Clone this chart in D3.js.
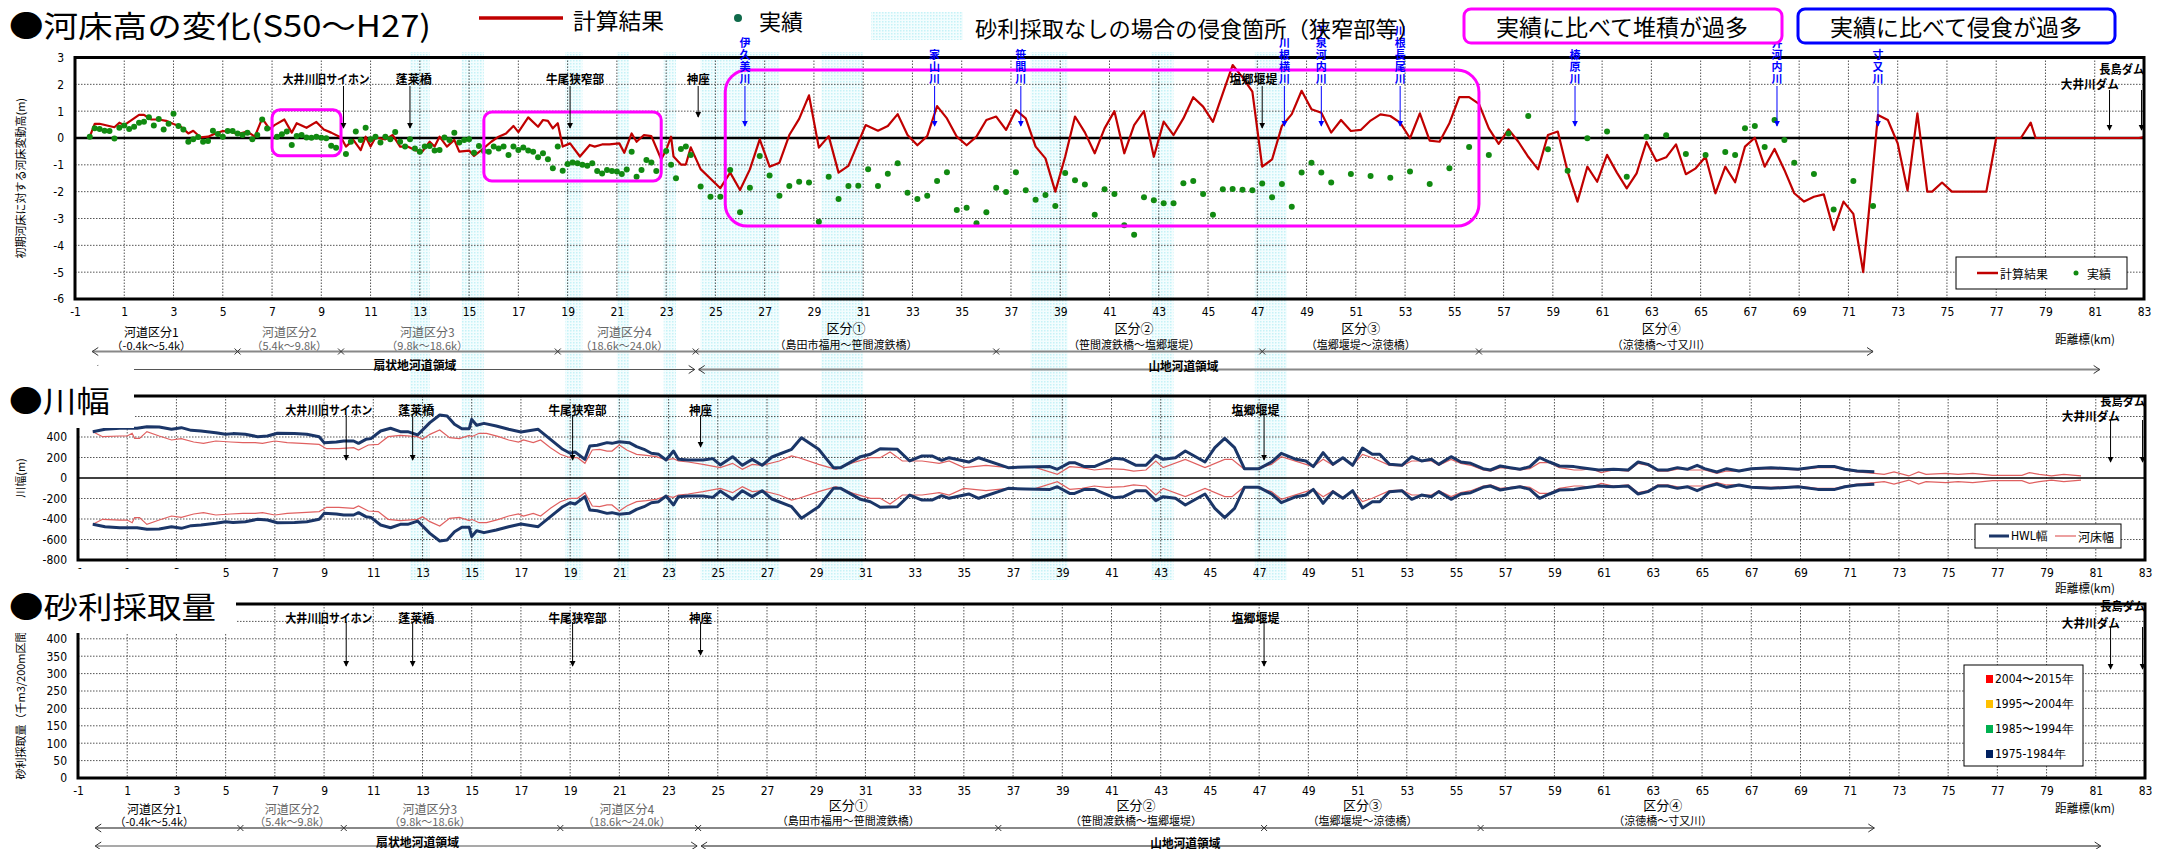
<!DOCTYPE html>
<html><head><meta charset="utf-8">
<script src="https://cdn.jsdelivr.net/npm/d3@7/dist/d3.min.js"></script>
<style>html,body{margin:0;padding:0;background:#fff;} svg{display:block;}</style>
</head><body>
<svg id="chart" width="2160" height="849"></svg>
<script>
// ================= DATA =================
const kmTicks = d3.range(-1, 84, 2);
const bedTicks = [-6,-5,-4,-3,-2,-1,0,1,2,3];
const widthTicks = [-800,-600,-400,-200,0,200,400];
const widthGrid = [-600,-400,-200,200,400,600];
const gravelTicks = [0,50,100,150,200,250,300,350,400];
const gravelGrid = [50,100,150,200,250,300,350,400,450];

// 計算結果 (km, m)
const calcPts = [[-0.4,0.05],[-0.2,0.53],[0.0,0.53],[0.6,0.4],[0.8,0.57],[1.0,0.48],[1.6,0.86],[1.8,0.86],[2.1,0.69],[2.4,0.69],[2.7,0.64],[3.0,0.52],[3.3,0.42],[3.6,0.17],[3.8,0.27],[4.1,0.02],[4.4,0.05],[4.7,0.17],[5.0,0.26],[5.3,0.24],[5.6,0.15],[6.0,0.24],[6.3,0.05],[6.6,0.73],[6.9,0.33],[7.1,0.48],[7.5,0.69],[7.8,0.2],[8.0,0.55],[8.4,0.38],[8.8,0.6],[9.1,0.32],[9.4,0.2],[9.8,0.02],[10.0,-0.32],[10.3,-0.07],[10.6,-0.45],[10.8,0.05],[11.0,-0.32],[11.2,0.02],[11.6,-0.05],[11.9,0.11],[12.2,-0.32],[12.5,-0.32],[12.8,-0.45],[13.1,-0.51],[13.4,-0.14],[13.6,-0.32],[13.8,0.05],[14.1,-0.32],[14.4,-0.07],[14.6,-0.51],[15.0,-0.47],[15.2,-0.67],[15.5,-0.45],[15.9,-0.14],[16.2,0.05],[16.5,0.17],[16.8,0.45],[17.0,0.22],[17.4,0.77],[17.8,0.42],[18.0,0.67],[18.2,0.64],[18.4,0.36],[18.6,0.55],[18.8,-0.32],[19.1,-0.2],[19.5,-0.69],[19.9,-0.26],[20.1,-0.32],[20.4,-0.24],[20.7,-0.24],[21.1,-0.2],[21.3,-0.55],[21.6,0.17],[21.8,-0.14],[22.1,0.11],[22.4,0.07],[22.8,-0.79],[23.0,-0.45],[23.2,0.05],[23.3,-0.69],[23.6,-0.99],[23.8,-0.99],[24.0,-0.35],[24.4,-1.16],[25.2,-1.87],[25.6,-1.29],[26.0,-1.94],[26.4,-1.17],[26.8,-0.05],[27.2,-1.07],[27.6,-0.92],[28.0,0.11],[28.4,0.71],[28.8,1.59],[29.2,-0.36],[29.6,0.07],[30.0,-1.29],[30.4,-1.04],[31.1,0.48],[31.6,0.27],[32.0,0.45],[32.4,0.89],[32.8,0.11],[33.2,-0.27],[33.6,0.07],[34.0,1.19],[34.4,0.73],[34.8,0.05],[35.2,-0.27],[35.6,0.05],[36.0,0.67],[36.4,0.8],[36.8,0.3],[37.2,1.04],[37.6,0.73],[38.0,-0.32],[38.4,-0.76],[38.8,-2.0],[39.2,-0.7],[39.6,0.8],[40.0,0.21],[40.4,-0.57],[40.8,0.36],[41.2,1.0],[41.6,-0.57],[42.0,0.48],[42.4,1.0],[42.8,-0.7],[43.2,0.61],[43.6,0.11],[44.0,0.73],[44.4,1.52],[44.8,1.17],[45.2,0.6],[45.6,1.66],[46.0,2.72],[46.4,2.26],[46.8,1.73],[47.2,-1.07],[47.6,-0.8],[48.0,0.45],[48.4,0.89],[48.8,1.76],[49.2,1.07],[49.6,0.94],[50.0,0.2],[50.4,0.67],[50.8,0.26],[51.2,0.3],[51.6,0.65],[52.0,0.88],[52.4,0.82],[52.8,0.57],[53.2,-0.01],[53.6,0.92],[54.0,-0.1],[54.4,-0.14],[54.8,0.55],[55.2,1.52],[55.6,1.52],[56.0,1.27],[56.4,0.36],[56.8,-0.22],[57.2,0.32],[57.6,-0.14],[58.0,-0.7],[58.4,-1.17],[58.8,0.11],[59.2,0.24],[59.6,-1.25],[60.0,-2.37],[60.4,-1.07],[60.8,-1.63],[61.2,-0.63],[61.6,-1.29],[62.0,-1.88],[62.4,-1.32],[62.8,-0.14],[63.2,-0.86],[63.6,-0.72],[64.0,-0.24],[64.4,-1.35],[64.8,-1.13],[65.2,-0.7],[65.6,-2.06],[66.0,-1.07],[66.4,-1.65],[66.8,-0.32],[67.2,0.01],[67.6,-1.07],[68.0,-0.41],[68.4,-1.19],[68.8,-2.06],[69.2,-2.37],[69.6,-2.19],[70.0,-2.1],[70.4,-3.43],[70.8,-2.37],[71.2,-2.83],[71.6,-5.0],[72.2,0.86],[72.6,0.67],[73.0,-0.2],[73.4,-1.96],[73.8,0.92],[74.2,-2.0],[74.4,-2.0],[74.8,-1.66],[75.2,-2.0],[76.6,-2.0],[77.0,0.0],[78.0,0.0],[78.4,0.57],[78.6,0.0],[82.8,0.0],[83.0,0.03]];

// 実績 (km, m)
const obsPts = [[-0.4,0.05],[-0.2,0.36],[0.0,0.34],[0.2,0.27],[0.4,0.26],[0.6,-0.02],[0.8,0.38],[1.0,0.47],[1.2,0.34],[1.4,0.42],[1.6,0.57],[1.8,0.61],[2.0,0.77],[2.2,0.47],[2.4,0.71],[2.6,0.32],[2.8,0.53],[3.0,0.9],[3.2,0.45],[3.4,0.32],[3.6,-0.14],[3.8,-0.05],[4.0,0.04],[4.2,-0.14],[4.4,-0.11],[4.6,0.27],[4.8,0.15],[5.0,0.05],[5.2,0.26],[5.4,0.26],[5.6,0.17],[5.8,0.11],[6.0,0.2],[6.2,-0.05],[6.4,0.11],[6.6,0.69],[6.8,0.35],[7.2,0.05],[7.4,0.14],[7.6,0.24],[7.8,-0.26],[8.0,0.07],[8.2,0.11],[8.4,0.02],[8.6,0.01],[8.8,0.05],[9.0,0.01],[9.2,-0.01],[9.4,-0.29],[9.6,-0.36],[10.0,-0.6],[10.2,-0.14],[10.4,0.24],[10.6,-0.07],[10.8,0.38],[11.0,-0.05],[11.2,0.05],[11.4,-0.17],[11.6,0.05],[11.8,-0.05],[12.0,0.22],[12.2,-0.14],[12.4,-0.32],[12.6,-0.05],[12.8,-0.39],[13.0,-0.51],[13.2,-0.32],[13.4,-0.3],[13.6,-0.47],[13.8,-0.45],[14.0,0.02],[14.2,-0.07],[14.4,0.2],[14.6,-0.17],[14.8,-0.07],[15.0,-0.05],[15.2,-0.55],[15.4,-0.3],[15.6,-0.48],[15.8,-0.51],[16.0,-0.32],[16.2,-0.39],[16.4,-0.32],[16.6,-0.63],[16.8,-0.32],[17.0,-0.45],[17.2,-0.35],[17.4,-0.47],[17.6,-0.51],[17.8,-0.72],[18.0,-0.57],[18.2,-0.79],[18.4,-1.13],[18.6,-0.32],[18.8,-1.22],[19.0,-0.97],[19.2,-0.91],[19.4,-0.94],[19.6,-1.0],[19.8,-1.03],[20.0,-0.94],[20.2,-1.23],[20.4,-1.32],[20.6,-1.19],[20.8,-1.23],[21.0,-1.25],[21.2,-1.34],[21.4,-1.17],[21.6,-0.51],[21.8,-1.44],[22.0,-1.19],[22.2,-0.82],[22.4,-0.91],[22.6,-1.23],[23.0,-0.48],[23.2,-1.0],[23.4,-1.5],[23.6,-0.41],[23.8,-0.32],[24.0,-0.63],[24.4,-1.81],[24.8,-2.19],[25.2,-2.19],[25.6,-1.19],[26.0,-2.77],[26.4,-1.85],[26.8,-0.67],[27.2,-1.4],[27.6,-2.15],[28.0,-1.79],[28.4,-1.63],[28.8,-1.66],[29.2,-3.12],[29.6,-1.44],[30.0,-2.27],[30.4,-1.79],[30.8,-1.78],[31.2,-1.16],[31.6,-1.79],[32.0,-1.33],[32.4,-0.94],[32.8,-2.04],[33.2,-2.27],[33.6,-2.15],[34.0,-1.6],[34.4,-1.28],[34.8,-2.68],[35.2,-2.6],[35.6,-3.18],[36.0,-2.77],[36.4,-1.85],[36.8,-2.01],[37.2,-1.28],[37.6,-1.95],[38.0,-2.3],[38.4,-2.12],[38.8,-2.53],[39.2,-1.3],[39.6,-1.57],[40.0,-1.73],[40.4,-2.86],[40.8,-1.91],[41.2,-2.09],[41.6,-3.25],[42.0,-3.61],[42.4,-2.21],[42.8,-2.32],[43.2,-2.43],[43.6,-2.43],[44.0,-1.69],[44.4,-1.6],[44.8,-2.09],[45.2,-2.86],[45.6,-1.91],[46.0,-1.9],[46.4,-1.93],[46.8,-1.95],[47.2,-1.7],[47.6,-2.21],[48.0,-1.71],[48.4,-2.56],[48.8,-1.29],[49.2,-0.92],[49.6,-1.29],[50.0,-1.66],[50.8,-1.34],[51.6,-1.42],[52.4,-1.48],[53.2,-1.25],[54.0,-1.71],[54.8,-1.13],[55.6,-0.34],[56.4,-0.63],[57.2,0.17],[58.0,0.82],[58.8,-0.42],[59.6,-1.22],[60.4,-0.01],[61.2,0.24],[62.0,-1.44],[62.8,0.05],[63.6,0.1],[64.4,-0.6],[65.2,-0.63],[66.0,-0.52],[66.4,-0.63],[66.8,0.36],[67.2,0.45],[67.6,-0.34],[68.0,0.67],[68.4,-0.07],[68.8,-0.92],[69.6,-1.34],[70.4,-2.66],[71.2,-1.6],[72.0,-2.53]];

// HWL幅 half width (km, m) — drawn mirrored above and below 0
const hwlPts = [[-0.4,452],[0.1,475],[0.7,485],[1.4,485],[1.8,500],[2.3,497],[2.8,475],[3.2,491],[3.6,465],[4.0,459],[4.6,442],[5.0,426],[5.3,433],[5.8,426],[6.3,403],[6.7,410],[7.1,436],[7.8,433],[8.3,426],[8.8,403],[9.0,345],[9.5,351],[9.8,361],[10.2,361],[10.4,338],[10.7,377],[10.9,384],[11.3,459],[11.7,485],[12.1,452],[12.4,452],[12.8,420],[13.3,540],[13.7,615],[14.0,605],[14.3,524],[14.6,481],[14.9,481],[15.0,572],[15.2,514],[15.5,533],[16.0,507],[16.5,475],[17.0,449],[17.7,475],[18.2,377],[18.7,280],[19.0,241],[19.2,254],[19.6,182],[19.8,312],[20.1,319],[20.5,345],[20.7,338],[21.0,354],[21.4,345],[21.7,306],[22.0,280],[22.3,241],[22.6,231],[22.9,176],[23.2,263],[23.4,182],[23.8,176],[24.4,176],[24.8,189],[25.1,128],[25.6,208],[26.0,124],[26.4,182],[26.8,124],[27.2,205],[28.0,280],[28.4,393],[29.1,280],[29.7,101],[30.0,101],[30.8,208],[31.2,231],[31.6,286],[32.3,280],[32.8,166],[33.3,215],[33.7,215],[34.1,172],[34.4,198],[35.2,156],[35.6,198],[36.8,101],[37.5,107],[38.5,111],[38.8,85],[39.3,150],[39.5,150],[39.9,111],[40.3,111],[41.1,192],[41.5,182],[42.0,124],[42.4,124],[42.8,221],[43.1,182],[43.6,198],[44.0,263],[44.8,156],[45.2,296],[45.6,387],[46.0,296],[46.4,91],[47.0,91],[47.5,156],[47.9,241],[48.5,182],[48.9,166],[49.2,111],[49.6,247],[50.0,133],[50.4,198],[50.8,124],[51.2,293],[51.6,231],[51.9,231],[52.3,133],[52.8,124],[53.2,208],[53.6,166],[54.0,182],[54.3,133],[54.8,208],[55.2,156],[55.6,143],[56.1,91],[56.4,78],[56.8,117],[57.2,101],[57.6,85],[58.0,111],[58.4,198],[58.8,156],[59.2,117],[59.8,111],[60.1,101],[60.8,78],[61.4,85],[62.0,78],[62.4,156],[62.8,133],[63.2,78],[63.6,78],[64.0,101],[64.4,85],[64.8,124],[65.1,91],[65.6,59],[66.0,91],[66.5,68],[67.0,91],[67.8,101],[68.9,85],[69.7,111],[70.4,111],[70.8,85],[71.3,68],[72.0,62]];

// 河床幅 half width (km, m)
const bedPts = [[-0.4,452],[0.0,403],[0.7,410],[1.0,410],[1.2,436],[1.3,387],[1.5,387],[1.8,452],[2.3,410],[2.8,371],[3.2,384],[3.7,351],[4.1,338],[4.6,361],[5.2,351],[5.7,345],[6.2,345],[6.5,338],[7.0,361],[7.5,345],[8.1,338],[8.8,328],[9.1,286],[9.6,286],[10.2,296],[10.4,273],[10.8,322],[11.2,328],[11.6,403],[12.1,416],[12.8,403],[13.0,377],[13.3,426],[13.7,468],[14.1,394],[14.5,384],[14.9,416],[15.0,403],[15.3,436],[15.6,436],[16.1,403],[16.5,371],[16.9,351],[17.1,371],[17.5,345],[17.8,371],[18.2,296],[18.6,231],[19.0,198],[19.3,198],[19.6,143],[19.9,273],[20.2,280],[20.5,263],[20.7,263],[21.0,322],[21.3,273],[21.7,231],[22.1,221],[22.5,208],[22.9,176],[23.2,189],[23.4,166],[23.8,156],[24.4,133],[25.1,101],[25.6,143],[26.0,85],[26.4,133],[26.8,124],[27.5,166],[28.0,215],[28.3,198],[29.1,133],[29.8,85],[30.5,150],[31.2,198],[31.6,198],[32.0,254],[32.5,166],[33.3,166],[34.0,143],[34.4,166],[35.0,101],[35.9,124],[36.8,101],[37.8,111],[38.8,36],[39.3,111],[39.8,101],[40.3,78],[40.8,91],[41.5,85],[41.9,68],[42.4,78],[42.8,166],[43.1,101],[44.0,182],[44.8,101],[45.6,182],[45.9,182],[46.4,85],[46.9,91],[47.5,133],[47.9,208],[48.9,133],[49.2,111],[49.6,182],[50.0,124],[50.4,189],[50.8,124],[51.2,231],[51.6,198],[52.3,124],[52.8,117],[53.2,166],[54.0,166],[54.3,124],[54.8,182],[55.2,143],[55.6,124],[56.1,78],[56.4,68],[56.8,101],[57.2,91],[57.6,78],[58.0,91],[58.4,150],[58.8,150],[59.2,101],[59.8,78],[60.1,78],[60.5,91],[60.9,52],[61.4,78],[62.0,68],[62.4,143],[62.8,124],[63.2,68],[63.6,68],[64.1,91],[64.5,78],[65.1,78],[65.6,46],[66.0,68],[66.5,68],[67.0,85],[67.8,91],[68.9,78],[69.7,101],[70.4,101],[70.8,78],[71.3,59],[72.0,46],[72.4,36],[72.8,59],[73.4,20],[73.8,59],[74.1,36],[74.9,46],[75.4,36],[76.0,46],[76.8,26],[78.0,26],[78.3,52],[78.7,36],[79.2,20],[79.7,36],[80.4,20]];

// 砂利採取なしの場合の侵食箇所 (km ranges)
const erosionBands = [[12.6,13.4],[14.7,15.6],[18.9,19.6],[21.0,21.5],[22.9,23.4],[24.4,27.6],[29.3,31.0],[37.8,39.3],[42.7,43.6],[46.9,48.2]];
// 実績に比べて堆積が過多 boxes (km from, km to, m top, m bottom)
const depositBoxes = [[7.0,9.8,1.05,-0.66],[15.6,22.8,0.97,-1.6],[25.4,56.0,2.53,-3.28]];

// landmarks
const landmarkNames = ["大井川旧サイホン","蓬莱橋","牛尾狭窄部","神座","塩郷堰堤"];
const landmarkKm = [9.9,12.6,19.1,24.3,47.2];
const damNames = ["大井川ダム","長島ダム"];
const damKm = [81.6,82.9];
const tribNames = ["伊久美川","家山川","笹間川","川根横川","下泉河内川","川根長尾川","榛原川","小長井河内川","寸又川"];
const tribKm = [26.2,33.9,37.4,48.1,49.6,52.8,59.9,68.1,72.2];

// sections
const secNames = ["河道区分1","河道区分2","河道区分3","河道区分4","区分①","区分②","区分③","区分④"];
const secRanges = ["（-0.4k〜5.4k）","（5.4k〜9.8k）","（9.8k〜18.6k）","（18.6k〜24.0k）","（島田市福用〜笹間渡鉄橋）","（笹間渡鉄橋〜塩郷堰堤）","（塩郷堰堤〜涼徳橋）","（涼徳橋〜寸又川）"];
const secCenterKm = [2.1,7.7,13.3,21.3,30.3,42.0,51.2,63.4];
const secBoundKm = [5.6,9.8,18.6,24.2,36.4,47.2,56.0];
const gravelSeries = ["2004〜2015年","1995〜2004年","1985〜1994年","1975-1984年"];

// ================= STYLE =================
const JP = "'Noto Sans CJK JP','Noto Sans',sans-serif";
const NAR = "'Liberation Sans Narrow','DejaVu Sans Condensed','Liberation Sans',sans-serif";
const RED = "#c00000", GREEN = "#118a11", NAVY = "#1b3668", BEDRED = "#e06060";
const gravelColors = ["#ff0000","#ffc000","#00b050","#002060"];

const svg = d3.select("#chart");
svg.append("rect").attr("width",2160).attr("height",849).attr("fill","#fff");
const defs = svg.append("defs");
const pat = defs.append("pattern").attr("id","dots").attr("width",3).attr("height",3).attr("patternUnits","userSpaceOnUse");
pat.append("rect").attr("width",3).attr("height",3).attr("fill","#f3fdfe");
pat.append("rect").attr("width",1.5).attr("height",1.5).attr("fill","#c6f2f7");
function marker(id, col){
  defs.append("marker").attr("id",id).attr("viewBox","0 0 8 8").attr("refX",7).attr("refY",4)
    .attr("markerWidth",6).attr("markerHeight",7).attr("markerUnits","userSpaceOnUse").attr("orient","auto")
    .append("path").attr("d","M0,0 L8,4 L0,8 z").attr("fill",col);
}
marker("ak","#000"); marker("ab","#0000ff");

// scales
const x1 = d3.scaleLinear([-1,83],[75,2144]);
const y1 = d3.scaleLinear([-6,3],[299,57.5]);
const x2 = d3.scaleLinear([-1,83],[78,2145]);
const y2 = d3.scaleLinear([-800,800],[560,396]);
const x3 = d3.scaleLinear([-1,83],[78,2145]);
const y3 = d3.scaleLinear([0,500],[778,604]);

// ---- shaded erosion bands ----
const gBands = svg.append("g");
gBands.selectAll("rect").data(erosionBands).join("rect")
  .attr("x",d=>x1(d[0])).attr("width",d=>x1(d[1])-x1(d[0]))
  .attr("y",52).attr("height",528).attr("fill","url(#dots)");
svg.append("rect").attr("x",871).attr("y",12).attr("width",92).attr("height",28).attr("fill","url(#dots)");

// ---- generic panel grid ----
function grid(x, y, yGrid, yTop, yBot){
  const g = svg.append("g");
  g.selectAll("line.v").data(kmTicks.slice(1,-1)).join("line")
    .attr("x1",d=>x(d)).attr("x2",d=>x(d)).attr("y1",yTop).attr("y2",yBot)
    .attr("stroke","#555").attr("stroke-width",1).attr("stroke-dasharray","1.5,1.5");
  g.selectAll("line.h").data(yGrid).join("line")
    .attr("x1",x.range()[0]).attr("x2",x.range()[1]).attr("y1",d=>y(d)).attr("y2",d=>y(d))
    .attr("stroke","#555").attr("stroke-width",1).attr("stroke-dasharray","1.5,1.5");
}
function xAxis(x, yPos){
  const g = svg.append("g").attr("transform",`translate(0,${yPos})`)
    .call(d3.axisBottom(x).tickValues(kmTicks).tickSize(0).tickPadding(8).tickFormat(d=>String(d)));
  g.select(".domain").remove();
  g.selectAll("text").attr("font-family",NAR).attr("font-size",12).attr("fill","#000");
}
function yAxis(x, y, ticks){
  const g = svg.append("g").attr("transform",`translate(${x.range()[0]},0)`)
    .call(d3.axisLeft(y).tickValues(ticks).tickSize(0).tickPadding(11).tickFormat(d=>String(d)));
  g.select(".domain").remove();
  g.selectAll("text").attr("font-family",NAR).attr("font-size",12).attr("fill","#000");
}
function frame(x, yTop, yBot){
  svg.append("rect").attr("x",x.range()[0]).attr("y",yTop).attr("width",x.range()[1]-x.range()[0]).attr("height",yBot-yTop)
    .attr("fill","none").attr("stroke","#000").attr("stroke-width",3);
}

// ================= PANEL 1 =================
grid(x1, y1, [-5,-4,-3,-2,-1,1,2], y1(3), y1(-6));
svg.append("line").attr("x1",x1(-1)).attr("x2",x1(83)).attr("y1",y1(0)).attr("y2",y1(0)).attr("stroke","#000").attr("stroke-width",2.5);
svg.append("path").datum(calcPts).attr("fill","none").attr("stroke",RED).attr("stroke-width",2.2).attr("stroke-linejoin","round")
  .attr("d",d3.line().x(d=>x1(d[0])).y(d=>y1(d[1])));
svg.append("g").selectAll("circle").data(obsPts).join("circle")
  .attr("cx",d=>x1(d[0])).attr("cy",d=>y1(d[1])).attr("r",3).attr("fill",GREEN);
svg.append("g").selectAll("rect").data(depositBoxes).join("rect")
  .attr("x",d=>x1(d[0])).attr("y",d=>y1(d[2])).attr("width",d=>x1(d[1])-x1(d[0])).attr("height",d=>y1(d[3])-y1(d[2]))
  .attr("rx",(d,i)=>i===2?22:8).attr("fill","none").attr("stroke","#ff00ff").attr("stroke-width",3);
frame(x1, y1(3), y1(-6));
xAxis(x1, y1(-6));
yAxis(x1, y1, bedTicks);
svg.append("text").attr("transform",`translate(20,${(y1(3)+y1(-6))/2}) rotate(-90)`).attr("text-anchor","middle")
  .attr("dominant-baseline","central").attr("font-family",JP).attr("font-size",11).text("初期河床に対する河床変動高(m)");

// legend panel 1
const lg1 = svg.append("g");
lg1.append("rect").attr("x",1956).attr("y",257).attr("width",171).attr("height",32).attr("fill","#fff").attr("stroke","#000").attr("stroke-width",1);
lg1.append("line").attr("x1",1977).attr("x2",1998).attr("y1",273).attr("y2",273).attr("stroke",RED).attr("stroke-width",2.5);
lg1.append("text").attr("x",2000).attr("y",273).attr("dominant-baseline","central").attr("font-family",JP).attr("font-size",12).text("計算結果");
lg1.append("circle").attr("cx",2076).attr("cy",273).attr("r",2.5).attr("fill",GREEN);
lg1.append("text").attr("x",2087).attr("y",273).attr("dominant-baseline","central").attr("font-family",JP).attr("font-size",12).text("実績");

// ================= PANEL 2 =================
grid(x2, y2, widthGrid, y2(800), y2(-800));
svg.append("line").attr("x1",x2(-1)).attr("x2",x2(83)).attr("y1",y2(0)).attr("y2",y2(0)).attr("stroke","#000").attr("stroke-width",1.5);
const lineUp = (x,y)=>d3.line().x(d=>x(d[0])).y(d=>y(d[1]));
const lineDn = (x,y)=>d3.line().x(d=>x(d[0])).y(d=>y(-d[1]));
[lineUp, lineDn].forEach(f=>{
  svg.append("path").datum(bedPts).attr("fill","none").attr("stroke",BEDRED).attr("stroke-width",1.2).attr("d",f(x2,y2));
});
[lineUp, lineDn].forEach(f=>{
  svg.append("path").datum(hwlPts).attr("fill","none").attr("stroke",NAVY).attr("stroke-width",3).attr("stroke-linejoin","round").attr("d",f(x2,y2));
});
frame(x2, y2(800), y2(-800));
xAxis(x2, y2(-800));
yAxis(x2, y2, widthTicks);
svg.append("text").attr("transform",`translate(20,478) rotate(-90)`).attr("text-anchor","middle")
  .attr("dominant-baseline","central").attr("font-family",JP).attr("font-size",11).text("川幅(m)");
const lg2 = svg.append("g");
lg2.append("rect").attr("x",1975).attr("y",524).attr("width",146).attr("height",24).attr("fill","#fff").attr("stroke","#000").attr("stroke-width",1);
lg2.append("line").attr("x1",1989).attr("x2",2009).attr("y1",536).attr("y2",536).attr("stroke",NAVY).attr("stroke-width",3);
lg2.append("text").attr("x",2011).attr("y",536).attr("dominant-baseline","central").attr("font-family",NAR).attr("font-size",12).text("HWL幅");
lg2.append("line").attr("x1",2055).attr("x2",2076).attr("y1",536).attr("y2",536).attr("stroke",BEDRED).attr("stroke-width",1.2);
lg2.append("text").attr("x",2078).attr("y",536).attr("dominant-baseline","central").attr("font-family",JP).attr("font-size",12).text("河床幅");

// ================= PANEL 3 =================
grid(x3, y3, gravelGrid, y3(500), y3(0));
frame(x3, y3(500), y3(0));
xAxis(x3, y3(0));
yAxis(x3, y3, gravelTicks);
svg.append("text").attr("transform",`translate(20,700) rotate(-90)`).attr("text-anchor","middle")
  .attr("dominant-baseline","central").attr("font-family",JP).attr("font-size",11).text("砂利採取量（千m3/200m区間）");
const lg3 = svg.append("g");
lg3.append("rect").attr("x",1964).attr("y",665).attr("width",119).attr("height",101).attr("fill","#fff").attr("stroke","#000").attr("stroke-width",1);
gravelSeries.forEach((s,i)=>{
  lg3.append("rect").attr("x",1986).attr("y",679+i*25-4).attr("width",7).attr("height",8).attr("fill",gravelColors[i]);
  lg3.append("text").attr("x",1995).attr("y",679+i*25).attr("dominant-baseline","central").attr("font-family",NAR).attr("font-size",12).text(s);
});

// ================= ANNOTATIONS =================
const lmTextKm = [9.2,12.75,19.3,24.3,46.85];
const lmLen = [87,36,58,23,48];
function landmarks(x, textY, aTop, aBot, shinzaBot, includeShiogo){
  landmarkNames.forEach((n,i)=>{
    if(i===4 && !includeShiogo) return;
    svg.append("text").attr("x",x(lmTextKm[i])).attr("y",textY).attr("text-anchor","middle").attr("dominant-baseline","central")
      .attr("font-family",JP).attr("font-weight",700).attr("font-size",12)
      .attr("textLength",lmLen[i]).attr("lengthAdjust","spacingAndGlyphs").text(n);
    svg.append("line").attr("x1",x(landmarkKm[i])).attr("x2",x(landmarkKm[i])).attr("y1",aTop)
      .attr("y2",i===3?shinzaBot:aBot).attr("stroke","#000").attr("stroke-width",1).attr("marker-end","url(#ak)");
  });
}
function dams(x, yOi, yNaga, aTop, aBot){
  const tx=[80.8,82.1], ty=[yOi,yNaga], len=[58,45];
  damNames.forEach((n,i)=>{
    svg.append("text").attr("x",x(tx[i])).attr("y",ty[i]).attr("text-anchor","middle").attr("dominant-baseline","central")
      .attr("font-family",JP).attr("font-weight",700).attr("font-size",12)
      .attr("textLength",len[i]).attr("lengthAdjust","spacingAndGlyphs").text(n);
    svg.append("line").attr("x1",x(damKm[i])).attr("x2",x(damKm[i])).attr("y1",aTop).attr("y2",aBot)
      .attr("stroke","#000").attr("stroke-width",1).attr("marker-end","url(#ak)");
  });
}
landmarks(x1, 78, 86, 128, 117, true);
dams(x1, 83, 68, 90, 130);
landmarks(x2, 409, 415, 460, 447, true);
dams(x2, 415, 400, 420, 462);
landmarks(x3, 617, 622, 666, 655, true);
dams(x3, 622, 605, 627, 669);

// tributaries (blue vertical text)
tribNames.forEach((n,i)=>{
  const ch = Array.from(n);
  const cx = x1(tribKm[i]);
  ch.forEach((c,j)=>{
    svg.append("text").attr("x",cx).attr("y",78-(ch.length-1-j)*12).attr("text-anchor","middle").attr("dominant-baseline","central")
      .attr("font-family",JP).attr("font-weight",700).attr("font-size",11).attr("fill","#0000ff").text(c);
  });
  svg.append("line").attr("x1",cx).attr("x2",cx).attr("y1",86).attr("y2",126).attr("stroke","#0000ff").attr("stroke-width",1).attr("marker-end","url(#ab)");
});

// ================= SECTION LABELS =================
function sections(x, L){
  const g = svg.append("g");
  secNames.forEach((n,i)=>{
    const isKado = i<4;
    const col = (i>=1 && i<=3) ? "#666" : "#000";
    g.append("text").attr("x",x(secCenterKm[i])).attr("y",isKado?L-20:L-24).attr("text-anchor","middle").attr("dominant-baseline","central")
      .attr("font-family",JP).attr("font-size",isKado?12:13).attr("fill",col).text(n);
    g.append("text").attr("x",x(secCenterKm[i])).attr("y",isKado?L-7:L-8).attr("text-anchor","middle").attr("dominant-baseline","central")
      .attr("font-family",JP).attr("font-size",11).attr("fill",col).text(secRanges[i]);
  });
  g.append("line").attr("x1",x(-0.3)).attr("x2",x(72.0)).attr("y1",L).attr("y2",L).attr("stroke","#888").attr("stroke-width",2);
  g.append("path").attr("d",`M${x(-0.3)+6},${L-4} L${x(-0.3)},${L} L${x(-0.3)+6},${L+4}`).attr("fill","none").attr("stroke","#333");
  g.append("path").attr("d",`M${x(72.0)-6},${L-4} L${x(72.0)},${L} L${x(72.0)-6},${L+4}`).attr("fill","none").attr("stroke","#333");
  secBoundKm.forEach(k=>{
    const cx = x(k);
    g.append("path").attr("d",`M${cx-3},${L-3} L${cx+3},${L+3} M${cx-3},${L+3} L${cx+3},${L-3}`).attr("stroke","#333").attr("stroke-width",1);
  });
  const L2 = L+18;
  g.append("line").attr("x1",x(-0.3)).attr("x2",x(24.2)-1).attr("y1",L2).attr("y2",L2).attr("stroke","#555").attr("stroke-width",1.2);
  g.append("path").attr("d",`M${x(-0.3)+6},${L2-4} L${x(-0.3)},${L2} L${x(-0.3)+6},${L2+4}`).attr("fill","none").attr("stroke","#333");
  g.append("path").attr("d",`M${x(24.2)-7},${L2-4} L${x(24.2)-1},${L2} L${x(24.2)-7},${L2+4}`).attr("fill","none").attr("stroke","#333");
  g.append("line").attr("x1",x(24.2)+3).attr("x2",x(81.2)).attr("y1",L2).attr("y2",L2).attr("stroke","#888").attr("stroke-width",2);
  g.append("path").attr("d",`M${x(24.2)+9},${L2-4} L${x(24.2)+3},${L2} L${x(24.2)+9},${L2+4}`).attr("fill","none").attr("stroke","#333");
  g.append("path").attr("d",`M${x(81.2)-6},${L2-4} L${x(81.2)},${L2} L${x(81.2)-6},${L2+4}`).attr("fill","none").attr("stroke","#333");
  g.append("text").attr("x",x(12.8)).attr("y",L+13).attr("text-anchor","middle").attr("dominant-baseline","central")
    .attr("font-family",JP).attr("font-weight",700).attr("font-size",12).attr("textLength",83).attr("lengthAdjust","spacingAndGlyphs").text("扇状地河道領域");
  g.append("text").attr("x",x(44.0)).attr("y",L+14).attr("text-anchor","middle").attr("dominant-baseline","central")
    .attr("font-family",JP).attr("font-weight",700).attr("font-size",12).attr("textLength",70).attr("lengthAdjust","spacingAndGlyphs").text("山地河道領域");
}
sections(x1, 351.5);
sections(x3, 828);

// 距離標
[[338],[587],[807]].forEach(d=>{
  svg.append("text").attr("x",2085).attr("y",d[0]).attr("text-anchor","middle").attr("dominant-baseline","central")
    .attr("font-family",JP).attr("font-size",12).attr("textLength",60).attr("lengthAdjust","spacingAndGlyphs").text("距離標(km)");
});

// ================= TITLES & TOP LEGEND =================
svg.append("rect").attr("x",0).attr("y",366).attr("width",134).attr("height",62).attr("fill","#fff");
svg.append("rect").attr("x",0).attr("y",569).attr("width",216).attr("height",35).attr("fill","#fff");
svg.append("rect").attr("x",0).attr("y",600).attr("width",236).attr("height",33).attr("fill","#fff");
svg.append("text").attr("x",9).attr("y",24).attr("dominant-baseline","central").attr("font-family",JP).attr("font-size",30)
  .attr("textLength",422).attr("lengthAdjust","spacingAndGlyphs").text("●河床高の変化(S50〜H27)");
svg.append("text").attr("x",9).attr("y",399).attr("dominant-baseline","central").attr("font-family",JP).attr("font-size",30)
  .attr("textLength",101).attr("lengthAdjust","spacingAndGlyphs").text("●川幅");
svg.append("text").attr("x",9).attr("y",605).attr("dominant-baseline","central").attr("font-family",JP).attr("font-size",30)
  .attr("textLength",207).attr("lengthAdjust","spacingAndGlyphs").text("●砂利採取量");

svg.append("line").attr("x1",479).attr("x2",563).attr("y1",18).attr("y2",18).attr("stroke",RED).attr("stroke-width",3.5);
svg.append("text").attr("x",573).attr("y",19).attr("dominant-baseline","central").attr("font-family",JP).attr("font-size",22)
  .attr("textLength",91).attr("lengthAdjust","spacingAndGlyphs").text("計算結果");
svg.append("circle").attr("cx",738).attr("cy",18).attr("r",4).attr("fill","#0f6a4a");
svg.append("text").attr("x",759).attr("y",20).attr("dominant-baseline","central").attr("font-family",JP).attr("font-size",22)
  .attr("textLength",44).attr("lengthAdjust","spacingAndGlyphs").text("実績");
svg.append("text").attr("x",975).attr("y",27).attr("dominant-baseline","central").attr("font-family",JP).attr("font-size",22)
  .attr("textLength",445).attr("lengthAdjust","spacingAndGlyphs").text("砂利採取なしの場合の侵食箇所（狭窄部等）");
svg.append("rect").attr("x",1464).attr("y",9).attr("width",318).attr("height",34).attr("rx",7).attr("fill","#fff").attr("stroke","#ff00ff").attr("stroke-width",3);
svg.append("text").attr("x",1622).attr("y",26).attr("text-anchor","middle").attr("dominant-baseline","central").attr("font-family",JP).attr("font-size",23)
  .attr("textLength",252).attr("lengthAdjust","spacingAndGlyphs").text("実績に比べて堆積が過多");
svg.append("rect").attr("x",1798).attr("y",9).attr("width",317).attr("height",34).attr("rx",7).attr("fill","#fff").attr("stroke","#0000ff").attr("stroke-width",3);
svg.append("text").attr("x",1956).attr("y",26).attr("text-anchor","middle").attr("dominant-baseline","central").attr("font-family",JP).attr("font-size",23)
  .attr("textLength",252).attr("lengthAdjust","spacingAndGlyphs").text("実績に比べて侵食が過多");
</script>
</body></html>
